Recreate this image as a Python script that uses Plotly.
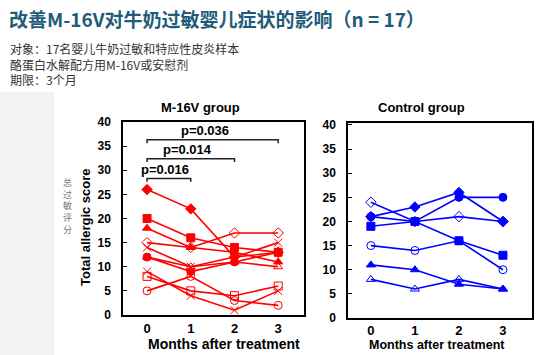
import plotly.graph_objects as go

# ---------------- data ----------------
months = [0, 1, 2, 3]
month_labels = ["0", "1", "2", "3"]

m16v_scores = [
    [26, 22, 12, 13],
    [20, 16, 14, 13],
    [18, 14, 13, 11],
    [15, 14, 17, 17],
    [14, 10, 12, 15],
    [12, 9, 11, 13],
    [12, 10, 11, 10],
    [9, 4, 1, 5],
    [8, 5, 4, 6],
    [5, 8, 3, 2],
]

control_scores = [
    [24, 20, 21, 20],
    [21, 20, 25, 25],
    [21, 23, 26, 20],
    [19, 20, 16, 13],
    [15, 14, 16, 10],
    [11, 10, 7, 6],
    [8, 6, 8, 6],
]

p_labels = ["p=0.016", "p=0.014", "p=0.036"]
p_start = [0, 0, 0]
p_end = [1, 2, 3]

y_ticks = [0, 5, 10, 15, 20, 25, 30, 35, 40]

# ---------------- styles ----------------
W, H = 554, 355
RED = "#ff0000"
BLUE = "#0000ff"
m16v_symbols = ["diamond", "square", "triangle-up", "diamond-open", "x-thin-open",
                "circle", "triangle-up-open", "x-thin-open", "square-open", "circle-open"]
control_symbols = ["diamond-open", "circle", "diamond", "square", "circle-open",
                   "triangle-up", "triangle-up-open"]
bracket_levels = [28.3, 32.4, 36.3]
p_text_pos = [(0.4, 30.2), (0.92, 34.4), (1.33, 38.2)]


def px(x):
    return x / W


def py(y):
    return 1 - y / H


def marker_style(sym, color):
    return dict(symbol=sym, size=8, color=color, line=dict(width=1, color=color))


fig = go.Figure()

for vals, sym in zip(m16v_scores, m16v_symbols):
    fig.add_trace(go.Scatter(
        x=months, y=vals, mode="lines+markers",
        line=dict(color=RED, width=1.6),
        marker=marker_style(sym, RED),
        cliponaxis=False, showlegend=False,
        xaxis="x", yaxis="y"))

for vals, sym in zip(control_scores, control_symbols):
    fig.add_trace(go.Scatter(
        x=months, y=vals, mode="lines+markers",
        line=dict(color=BLUE, width=1.6),
        marker=marker_style(sym, BLUE),
        cliponaxis=False, showlegend=False,
        xaxis="x2", yaxis="y2"))

# significance brackets
for s, e, lvl in zip(p_start, p_end, bracket_levels):
    fig.add_trace(go.Scatter(
        x=[s, s, e, e], y=[lvl - 0.7, lvl, lvl, lvl - 0.7], mode="lines",
        line=dict(color="#222222", width=1.5), showlegend=False,
        hoverinfo="skip", xaxis="x", yaxis="y"))

bold = dict(family="Liberation Sans, Arial, sans-serif", color="black", weight="bold")

annotations = []
for lab, (tx, ty) in zip(p_labels, p_text_pos):
    annotations.append(dict(x=tx, y=ty, xref="x", yref="y", text=lab,
                            xanchor="center", yanchor="middle",
                            showarrow=False, font=dict(size=13, **bold)))


def note(x, y, text, font, xanchor="center", **kw):
    annotations.append(dict(x=px(x), y=py(y), xref="paper", yref="paper",
                            xanchor=xanchor, yanchor="middle", showarrow=False,
                            text=text, font=font, **kw))


note(7, 18, "改善M-16V对牛奶过敏婴儿症状的影响（n = 17）",
     dict(family="Noto Sans CJK SC", size=19, color="#1f5c7a", weight="bold"),
     xanchor="left")
sub_lines = ["对象：17名婴儿牛奶过敏和特应性皮炎样本",
             "酪蛋白水解配方用M-16V或安慰剂",
             "期限：3个月"]
note(8, 64, "<br>".join(sub_lines),
     dict(family="Noto Sans CJK SC", size=12, color="#333333"),
     xanchor="left", align="left")

note(200, 107, "M-16V group", dict(size=13, **bold))
note(421, 107, "Control group", dict(size=13, **bold))
note(224, 344, "Months after treatment", dict(size=14, **bold))
note(437, 345, "Months after treatment", dict(size=12.5, **bold))
note(85, 227, "Total allergic score", dict(size=13, **bold), textangle=-90)
note(67, 206, "<br>".join("总过敏评分"),
     dict(family="Noto Sans CJK SC", size=9, color="#777777"))

axis_common = dict(showline=True, mirror=True, linecolor="black", linewidth=1.5,
                   showgrid=False, zeroline=False, automargin=False)

fig.update_layout(
    width=W, height=H, autosize=False,
    margin=dict(l=0, r=0, t=0, b=0, pad=0, autoexpand=False),
    paper_bgcolor="white", plot_bgcolor="white",
    showlegend=False,
    xaxis=dict(domain=[px(123), px(304)], range=[-0.55, 3.59], tickvals=months,
               ticktext=month_labels, ticks="", ticklabelstandoff=1,
               tickfont=dict(size=13, **bold), anchor="y", **axis_common),
    yaxis=dict(domain=[py(315), py(122)], range=[0, 40], tickvals=y_ticks,
               ticks="inside", ticklen=4, tickcolor="black", ticklabelstandoff=8,
               tickfont=dict(size=12, **bold), anchor="x", **axis_common),
    xaxis2=dict(domain=[px(348), px(532)], range=[-0.52, 3.66], tickvals=months,
                ticktext=month_labels, ticks="", ticklabelstandoff=0,
                tickfont=dict(size=13, **bold), anchor="y2", **axis_common),
    yaxis2=dict(domain=[py(318), py(123)], range=[0, 40.4], tickvals=y_ticks,
                ticks="inside", ticklen=4, tickcolor="black", ticklabelstandoff=8,
                tickfont=dict(size=12, **bold), anchor="x2", **axis_common),
    annotations=annotations,
    shapes=[dict(type="rect", xref="paper", yref="paper", x0=0, x1=px(54),
                 y0=0, y1=py(92), fillcolor="#f2f2f2", line=dict(width=0),
                 layer="below")],
)

fig.write_html("out.html", config={"displayModeBar": False},
               post_script="document.body.style.margin='0';document.body.style.padding='0';")
